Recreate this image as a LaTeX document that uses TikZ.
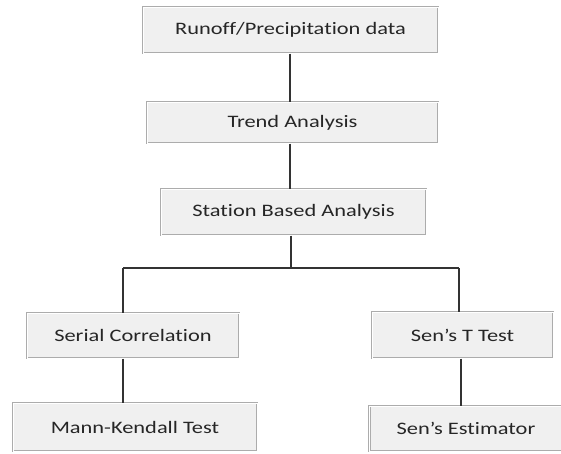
\documentclass[tikz,border=0pt]{standalone}
\usepackage{fontspec}
\setmainfont{Carlito}[FakeStretch=1.28,Ligatures=NoCommon]
\begin{document}
\begin{tikzpicture}[x=1pt,y=-1pt,
  box/.style={draw=gray!65,line width=1pt,fill=gray!12,inner sep=0pt,
    text=black!85,font=\fontsize{17.5}{20}\selectfont,
    double=white,double distance=0.6pt},
  conn/.style={draw=black!80,line width=1.1pt}]
\useasboundingbox (0,0) rectangle (561,453);
\node[box,minimum width=295pt,minimum height=46pt] (b1) at (290.5,30) {Runoff/Precipitation data};
\node[box,minimum width=291pt,minimum height=41pt] (b2) at (292.5,122.5) {Trend Analysis};
\node[box,minimum width=265pt,minimum height=46pt] (b3) at (293.5,212) {Station Based Analysis};
\node[box,minimum width=212pt,minimum height=45pt] (sc) at (133,335.5) {Serial Correlation};
\node[box,minimum width=181pt,minimum height=46pt] (st) at (462.5,335) {Sen’s T Test};
\node[box,minimum width=244pt,minimum height=48pt] (mk) at (135,427) {Mann-Kendall Test};
\node[box,minimum width=193pt,minimum height=45pt] (se) at (466,428.5) {Sen’s Estimator};
\coordinate (j) at (291,268);
\coordinate (jl) at (123,268);
\coordinate (jr) at (459,268);
\draw[conn] (b1.south -| 290,0) -- (b2.north -| 290,0);
\draw[conn] (b2.south -| 290,0) -- (b3.north -| 290,0);
\draw[conn] (b3.south -| j) -- (j);
\draw[conn] (jl) -- (jr);
\draw[conn] (jl) -- (jl |- sc.north);
\draw[conn] (jr) -- (jr |- st.north);
\draw[conn] (sc.south -| jl) -- (mk.north -| jl);
\draw[conn] (st.south -| 461,0) -- (se.north -| 461,0);
\end{tikzpicture}
\end{document}
